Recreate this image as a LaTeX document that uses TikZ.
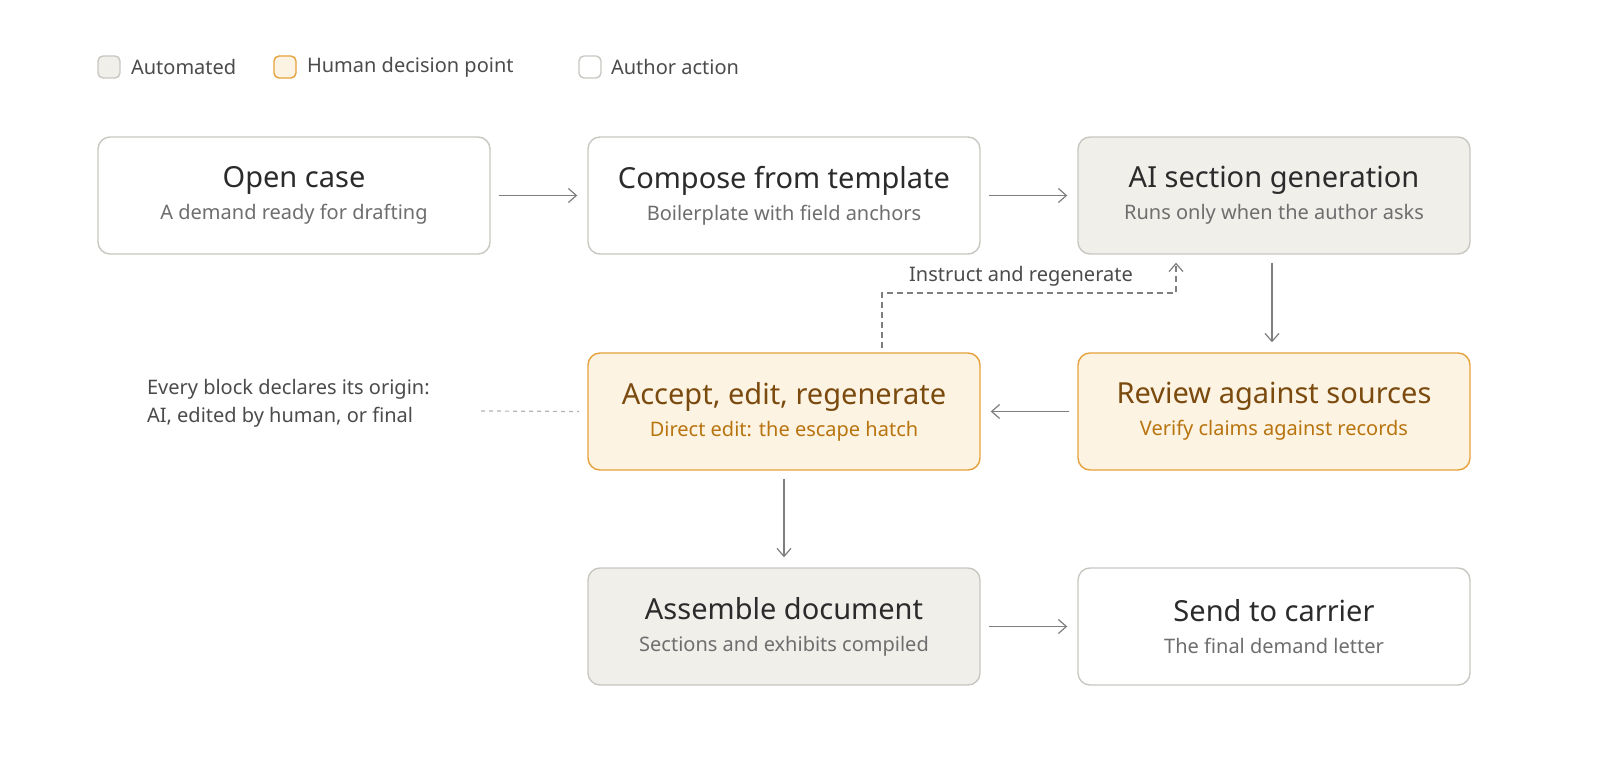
\documentclass[tikz,border=0pt]{standalone}
\usepackage{fontspec}
\setmainfont{Noto Sans}
\usetikzlibrary{arrows.meta}
\definecolor{gfill}{HTML}{F0EFEA}
\definecolor{gline}{HTML}{C9C7C1}
\definecolor{ofill}{HTML}{FDF3E2}
\definecolor{oline}{HTML}{E6A23C}
\definecolor{otitle}{HTML}{7A4A0E}
\definecolor{osub}{HTML}{B8740F}
\definecolor{ttl}{HTML}{2B2B2B}
\definecolor{sub}{HTML}{6E6E6E}
\definecolor{arr}{HTML}{7F7F7F}
\tikzset{
 box/.style={draw=gline,line width=0.7pt,rounded corners=6pt,minimum width=196pt,minimum height=58.5pt,fill=white,align=center},
 auto/.style={box,fill=gfill},
 human/.style={box,fill=ofill,draw=oline},
 flow/.style={draw=arr,line width=0.6pt,-{Straight Barb[length=4pt,width=7pt]}},
 leg/.style={draw=gline,line width=0.7pt,rounded corners=2.5pt,minimum size=11pt,inner sep=0pt},
 lt/.style={anchor=west,text=ttl!85,font=\fontsize{10}{12}\selectfont},
}
\newcommand{\btt}[4]{{\fontsize{14.5}{16}\selectfont\color{#1}#2}\\[4pt]{\fontsize{10}{12}\selectfont\color{#3}#4}}
\begin{document}
\begin{tikzpicture}[x=0.5pt,y=-0.5pt]
\fill[white] (0,0) rectangle (1600,780);
% legend
\node[leg,fill=gfill] (l1) at (109,67) {};
\node[lt] (l1t) at (124,67) {Automated};
\node[leg,fill=ofill,draw=oline] (l2) at (285,67) {};
\node[lt] (l2t) at (300,67) {Human decision point};
\node[leg,fill=white] (l3) at (590,67) {};
\node[lt] (l3t) at (604,67) {Author action};
% boxes
\node[box] (open) at (294,195.5) {\btt{ttl}{Open case}{sub}{A demand ready for drafting}};
\node[box] (comp) at (784,195.5) {\btt{ttl}{Compose from template}{sub}{Boilerplate with field anchors}};
\node[auto] (ai) at (1274,195.5) {\btt{ttl}{AI section generation}{sub}{Runs only when the author asks}};
\node[human] (acc) at (784,411.5) {\btt{otitle}{Accept, edit, regenerate}{osub}{Direct edit: the escape hatch}};
\node[human] (rev) at (1274,411.5) {\btt{otitle}{Review against sources}{osub}{Verify claims against records}};
\node[auto] (asm) at (784,626.5) {\btt{ttl}{Assemble document}{sub}{Sections and exhibits compiled}};
\node[box] (send) at (1274,626.5) {\btt{ttl}{Send to carrier}{sub}{The final demand letter}};
% arrows
\draw[flow] ([xshift=4pt]open.east) -- ([xshift=-5pt]comp.west);
\draw[flow] ([xshift=4pt]comp.east) -- ([xshift=-5pt]ai.west);
\draw[flow] ([yshift=-4pt]ai.south -| 1272,0) -- ([yshift=5pt]rev.north -| 1272,0);
\draw[flow] ([xshift=-4pt]rev.west) -- ([xshift=5pt]acc.west -| acc.east);
\draw[flow] ([yshift=-4pt]acc.south) -- ([yshift=5pt]asm.north);
\draw[flow] ([xshift=4pt]asm.east) -- ([xshift=-5pt]send.west);
% dashed loop
\coordinate (d1) at (882,293);
\coordinate (d2) at (1176,293);
\draw[flow,dash pattern=on 3pt off 2pt] ([yshift=2pt]acc.north -| d1) -- (d1) -- (d2) -- ([yshift=-4pt]ai.south -| d2);
\node[text=ttl!85,font=\fontsize{10}{12}\selectfont] (lbl) at (1021,276) {Instruct and regenerate};
% note
\node[anchor=west,align=left,text=ttl!85,font=\fontsize{10}{14}\selectfont] (note) at (140,403) {Every block declares its origin:\\AI, edited by human, or final};
\coordinate (n1) at (481,411);
\draw[gline!90!black,line width=0.6pt,dash pattern=on 2pt off 2pt] (n1) -- ([xshift=-4pt]acc.west);
\pgfresetboundingbox
\useasboundingbox (0,0) rectangle (1600,780);
\end{tikzpicture}
\end{document}
